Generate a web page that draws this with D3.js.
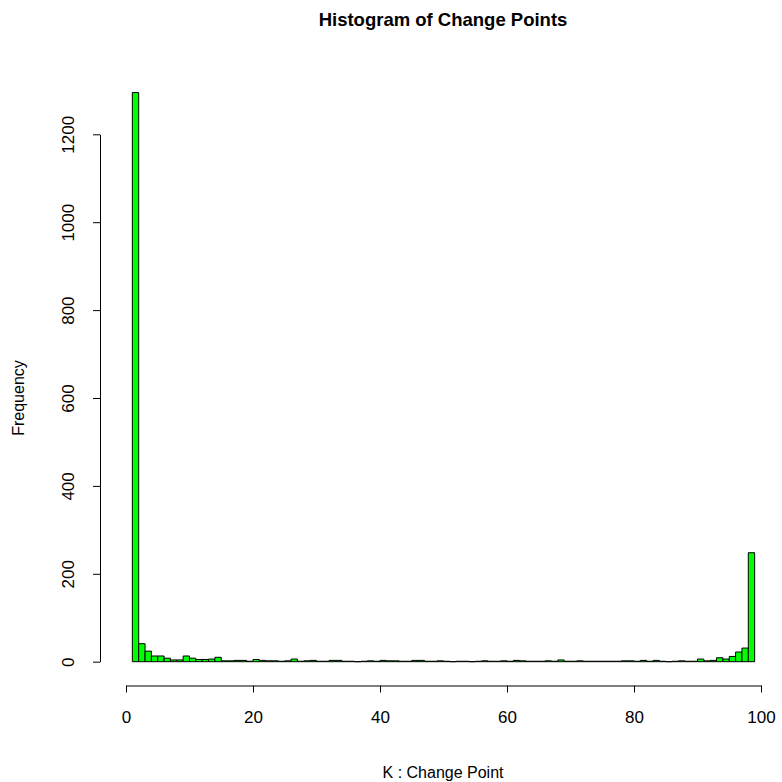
<!DOCTYPE html>
<html>
<head>
<meta charset="utf-8">
<script src="https://cdn.jsdelivr.net/npm/d3@7"></script>
<style>
  body { margin: 0; background: #fff; }
  svg text { font-family: "Liberation Sans", Arial, sans-serif; }
</style>
</head>
<body>
<div id="chart"></div>
<script>
// bin edges: 1..99, width 1
var binStart = 1;
var binWidth = 1;
// counts per bin
var counts = [
  1295, 41, 24, 13, 13, 8, 4, 4, 13, 8,
  5, 5, 6, 10, 2, 2, 3, 3, 1, 5,
  3, 2, 2, 1, 2, 6, 1, 2, 3, 1,
  1, 3, 3, 1, 1, 0, 1, 2, 1, 3,
  2, 2, 1, 1, 3, 3, 1, 1, 2, 1,
  0, 1, 1, 0, 1, 2, 1, 1, 2, 1,
  3, 2, 1, 1, 1, 2, 1, 4, 1, 1,
  2, 1, 1, 1, 1, 1, 1, 2, 2, 1,
  3, 1, 3, 1, 0, 1, 2, 1, 1, 6,
  2, 3, 9, 6, 12, 22, 31, 248
];
var xTicks = [0, 20, 40, 60, 80, 100];
var yTicks = [0, 200, 400, 600, 800, 1000, 1200];

var width = 782, height = 782;

var svg = d3.select("#chart").append("svg")
    .attr("width", width)
    .attr("height", height);

var x = d3.scaleLinear().domain([0, 100]).range([126, 761]);
var y = d3.scaleLinear().domain([0, 1200]).range([661.7, 134.3]);

// bars drawn as closed paths so empty bins still show as a line
svg.selectAll("path.bar")
    .data(counts)
    .enter()
    .append("path")
    .attr("class", "bar")
    .attr("d", (d, i) => {
        var x0 = x(binStart + i * binWidth), x1 = x(binStart + (i + 1) * binWidth);
        return "M" + x0 + "," + y(0) + "V" + y(d) + "H" + x1 + "V" + y(0) + "Z";
    })
    .attr("fill", "#00ff00")
    .attr("stroke", "#000")
    .attr("stroke-width", 1);

// x axis
var xAxis = svg.append("g")
    .attr("transform", "translate(0,685.5)")
    .call(d3.axisBottom(x).tickValues(xTicks).tickSize(7).tickSizeOuter(0).tickPadding(18));
xAxis.selectAll("text").attr("font-size", 17).attr("fill", "#000")
    .style("font-family", "Liberation Sans, Arial, sans-serif");
xAxis.selectAll("path,line").attr("stroke", "#000");

// y axis
var yAxis = svg.append("g")
    .attr("transform", "translate(100,0)")
    .call(d3.axisLeft(y).tickValues(yTicks).tickFormat(d3.format("d")).tickSize(7).tickSizeOuter(0));
yAxis.selectAll("path,line").attr("stroke", "#000");
yAxis.selectAll("text")
    .attr("font-size", 17)
    .attr("fill", "#000")
    .style("font-family", "Liberation Sans, Arial, sans-serif")
    .attr("x", null)
    .attr("dy", null)
    .attr("text-anchor", "middle")
    .attr("transform", "translate(-26,0) rotate(-90)");

// title
svg.append("text")
    .attr("x", 443)
    .attr("y", 26)
    .attr("text-anchor", "middle")
    .attr("font-size", 18.5)
    .attr("font-weight", "bold")
    .text("Histogram of Change Points");

// axis titles
svg.append("text")
    .attr("x", 443)
    .attr("y", 778)
    .attr("text-anchor", "middle")
    .attr("font-size", 16)
    .text("K : Change Point");

svg.append("text")
    .attr("transform", "translate(24,398) rotate(-90)")
    .attr("text-anchor", "middle")
    .attr("font-size", 16)
    .text("Frequency");
</script>
</body>
</html>
